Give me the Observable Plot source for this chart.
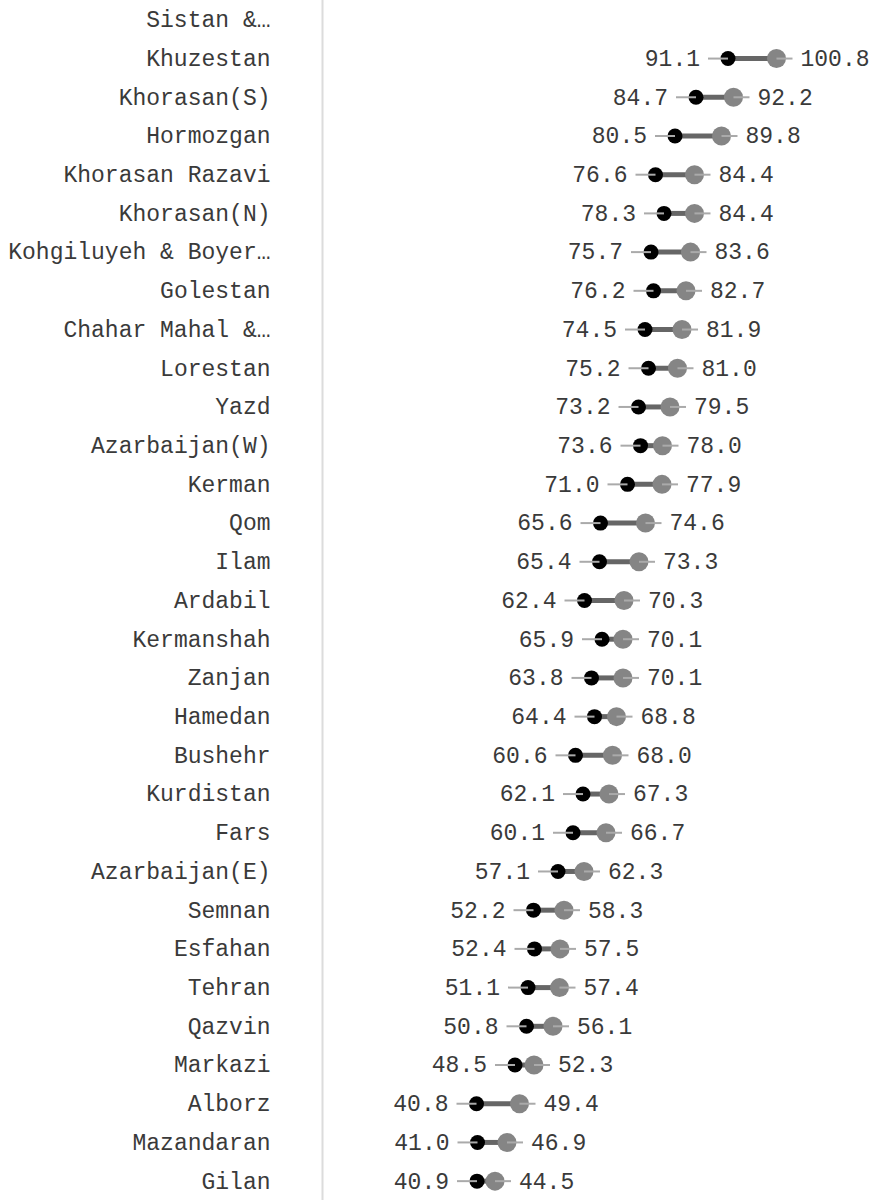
<!DOCTYPE html>
<html>
<head>
<meta charset="utf-8">
<script src="https://cdn.jsdelivr.net/npm/d3@7"></script>
<script src="https://cdn.jsdelivr.net/npm/@observablehq/plot@0.6"></script>
<style>
  html, body { margin: 0; padding: 0; background: #fff; }
</style>
</head>
<body>
<div id="chart"></div>
<script>
const provinces = [
  "Sistan &…", "Khuzestan", "Khorasan(S)", "Hormozgan", "Khorasan Razavi",
  "Khorasan(N)", "Kohgiluyeh & Boyer…", "Golestan", "Chahar Mahal &…", "Lorestan",
  "Yazd", "Azarbaijan(W)", "Kerman", "Qom", "Ilam",
  "Ardabil", "Kermanshah", "Zanjan", "Hamedan", "Bushehr",
  "Kurdistan", "Fars", "Azarbaijan(E)", "Semnan", "Esfahan",
  "Tehran", "Qazvin", "Markazi", "Alborz", "Mazandaran", "Gilan"
];
const lowValues = [
  null, 91.1, 84.7, 80.5, 76.6,
  78.3, 75.7, 76.2, 74.5, 75.2,
  73.2, 73.6, 71.0, 65.6, 65.4,
  62.4, 65.9, 63.8, 64.4, 60.6,
  62.1, 60.1, 57.1, 52.2, 52.4,
  51.1, 50.8, 48.5, 40.8, 41.0, 40.9
];
const highValues = [
  null, 100.8, 92.2, 89.8, 84.4,
  84.4, 83.6, 82.7, 81.9, 81.0,
  79.5, 78.0, 77.9, 74.6, 73.3,
  70.3, 70.1, 70.1, 68.8, 68.0,
  67.3, 66.7, 62.3, 58.3, 57.5,
  57.4, 56.1, 52.3, 49.4, 46.9, 44.5
];

const rows = provinces.map((p, i) => ({province: p, low: lowValues[i], high: highValues[i]}));
const data = rows.filter(d => d.low != null && d.high != null);

const W = 870, H = 1202;
const mL = 322, mR = 48;
const xDomain = [10, 110];
const pxPerUnit = (W - mL - mR) / (xDomain[1] - xDomain[0]);
const leadL = 20 / pxPerUnit, leadR = 16 / pxPerUnit;
const font = "'Liberation Mono', 'DejaVu Sans Mono', monospace";

const chart = Plot.plot({
  width: W,
  height: H,
  marginLeft: mL,
  marginRight: mR,
  marginTop: 0,
  marginBottom: 2,
  style: {fontFamily: font, fontSize: "23px", background: "#fff"},
  x: {domain: xDomain, axis: null},
  y: {domain: provinces, type: "band", padding: 0, round: false, label: null},
  marks: [
    Plot.ruleX([xDomain[0]], {stroke: "#dcdcdc", strokeWidth: 2}),
    Plot.axisY({tickSize: 0, tickPadding: 52, color: "#3a3a3a", fontSize: 23, label: null}),
    Plot.link(data, {x1: "low", x2: "high", y1: "province", y2: "province", stroke: "#666", strokeWidth: 5}),
    Plot.dot(data, {x: "low", y: "province", r: 7.5, fill: "#000"}),
    Plot.dot(data, {x: "high", y: "province", r: 9.5, fill: "#858585"}),
    Plot.link(data, {x1: d => d.low - leadL, x2: "low", y1: "province", y2: "province", stroke: "#aaa", strokeWidth: 2}),
    Plot.link(data, {x1: "high", x2: d => d.high + leadR, y1: "province", y2: "province", stroke: "#aaa", strokeWidth: 2}),
    Plot.text(data, {x: "low", y: "province", text: d => d.low.toFixed(1), textAnchor: "end", dx: -28, fill: "#3a3a3a", fontSize: 23}),
    Plot.text(data, {x: "high", y: "province", text: d => d.high.toFixed(1), textAnchor: "start", dx: 24, fill: "#3a3a3a", fontSize: 23})
  ]
});
document.getElementById("chart").appendChild(chart);
</script>
</body>
</html>
